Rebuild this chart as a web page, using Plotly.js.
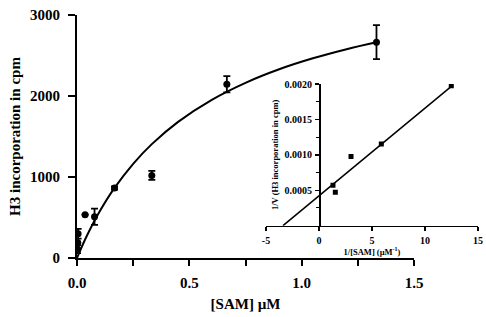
<!DOCTYPE html>
<html>
<head>
<meta charset="utf-8">
<script src="https://cdn.plot.ly/plotly-3.0.1.min.js"></script>
<style>html,body{margin:0;padding:0;background:#fff;}#chart{width:486px;height:317px;}</style>
</head>
<body>
<div id="chart"></div>
<script>
// Main plot: H3 incorporation vs [SAM]
const samConc = [0.002, 0.003, 0.005, 0.036, 0.078, 0.167, 0.333, 0.667, 1.333];
const h3Cpm = [110, 190, 300, 535, 510, 865, 1020, 2145, 2665];
const h3Err = [50, 0, 60, 0, 100, 20, 55, 100, 210];

// Fitted curve
const fitX = [0, 0.02, 0.05, 0.1, 0.167, 0.25, 0.333, 0.45, 0.6, 0.75, 0.9, 1.05, 1.2, 1.333];
const fitY = [0, 130, 308, 570, 865, 1163, 1406, 1681, 1953, 2163, 2330, 2465, 2578, 2663];

const mainXTicks = [0, 0.5, 1.0, 1.5];
const mainXLabels = ['0.0', '0.5', '1.0', '1.5'];
const mainXMinor = [0.25, 0.75, 1.25];
const mainYTicks = [0, 1000, 2000, 3000];

// Inset: Lineweaver-Burk
const invSam = [12.48, 5.88, 3.02, 1.32, 1.54];
const invV = [0.001975, 0.001155, 0.000977, 0.000571, 0.000472];
const lbLineX = [-3.4, 12.6];
const lbLineY = [0.0, 0.00198];

const insetXTicks = [-5, 0, 5, 10, 15];
const insetXLabels = ['-5', '0', '5', '10', '15'];
const insetYTicks = [0.0005, 0.0010, 0.0015, 0.0020];
const insetYLabels = ['0.0005', '0.0010', '0.0015', '0.0020'];
const insetYMinor = [0.00025, 0.00075, 0.00125, 0.00175];

const serif = 'Liberation Serif, Times New Roman, serif';

const traces = [
  {x: fitX, y: fitY, mode: 'lines', line: {color: '#000', width: 2, shape: 'spline'}, xaxis: 'x', yaxis: 'y', hoverinfo: 'skip'},
  {x: samConc, y: h3Cpm, mode: 'markers', marker: {color: '#000', size: 7, symbol: 'circle'},
   error_y: {type: 'data', array: h3Err, visible: true, color: '#000', thickness: 1.8, width: 3.5},
   xaxis: 'x', yaxis: 'y'},
  {x: lbLineX, y: lbLineY, mode: 'lines', line: {color: '#000', width: 1.5}, xaxis: 'x2', yaxis: 'y2', hoverinfo: 'skip'},
  {x: invSam, y: invV, mode: 'markers', marker: {color: '#000', size: 5, symbol: 'square'}, xaxis: 'x2', yaxis: 'y2'}
];

const layout = {
  width: 486, height: 317,
  margin: {l: 77, r: 8, t: 15, b: 59},
  paper_bgcolor: '#fff', plot_bgcolor: 'rgba(0,0,0,0)',
  showlegend: false,
  font: {family: serif, color: '#000'},
  xaxis: {
    domain: [0, 0.8404], range: [0, 1.5], anchor: 'y',
    tickmode: 'array', tickvals: mainXTicks, ticktext: mainXLabels,
    ticks: 'outside', ticklen: 6, tickwidth: 2, tickcolor: '#000',
    minor: {tickvals: mainXMinor, ticks: 'outside', ticklen: 6, tickwidth: 2, tickcolor: '#000'},
    showline: true, linecolor: '#000', linewidth: 2, showgrid: false, zeroline: false,
    tickfont: {family: serif, size: 15, weight: 'bold'}, ticklabelstandoff: 4,
    title: {text: '<b>[SAM] µM</b>', font: {family: serif, size: 15}, standoff: 8}
  },
  yaxis: {
    domain: [0, 1], range: [0, 3000], anchor: 'x',
    tickmode: 'array', tickvals: mainYTicks,
    ticks: 'outside', ticklen: 7, tickwidth: 2, tickcolor: '#000',
    showline: true, linecolor: '#000', linewidth: 2, showgrid: false, zeroline: false,
    tickfont: {family: serif, size: 15, weight: 'bold'}, ticklabelstandoff: 5,
    title: {text: '<b>H3 incorporation in cpm</b>', font: {family: serif, size: 15}, standoff: 6}
  },
  xaxis2: {
    domain: [0.4713, 1.0], range: [-5, 15], anchor: 'y2',
    tickmode: 'array', tickvals: insetXTicks, ticktext: insetXLabels,
    ticks: 'outside', ticklen: 4, tickwidth: 1.5, tickcolor: '#000',
    showline: true, linecolor: '#000', linewidth: 1.5, showgrid: false, zeroline: false,
    tickfont: {family: serif, size: 10, weight: 'bold'}, ticklabelstandoff: 1,
    title: {text: '<b>1/[SAM] (µM<sup>-1</sup>)</b>', font: {family: serif, size: 8.5}, standoff: 2}
  },
  yaxis2: {
    domain: [0.1329, 0.716], range: [0, 0.002], anchor: 'free', overlaying: false, position: 0.6035,
    tickmode: 'array', tickvals: insetYTicks, ticktext: insetYLabels,
    ticks: 'outside', ticklen: 4, tickwidth: 1.5, tickcolor: '#000',
    minor: {tickvals: insetYMinor, ticks: 'outside', ticklen: 3, tickwidth: 1, tickcolor: '#000'},
    showline: true, linecolor: '#000', linewidth: 1.5, showgrid: false, zeroline: false,
    tickfont: {family: serif, size: 10, weight: 'bold'}, ticklabelstandoff: 1,
    title: {text: '<b>1/V (H3 incorporation in cpm)</b>', font: {family: serif, size: 8.5}, standoff: 3}
  }
};

Plotly.newPlot('chart', traces, layout, {staticPlot: true, displayModeBar: false});
</script>
</body>
</html>
